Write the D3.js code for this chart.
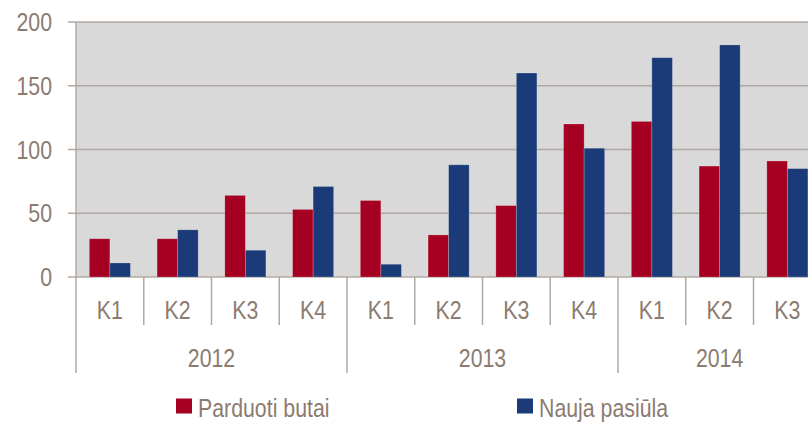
<!DOCTYPE html>
<html>
<head>
<meta charset="utf-8">
<script src="https://cdn.jsdelivr.net/npm/d3@7"></script>
<style>
  body { margin: 0; background: #fff; }
  #chart text { font-family: "Liberation Sans", Arial, sans-serif; fill: #8c7b70; font-size: 26px; }
</style>
</head>
<body>
<div id="chart"></div>
<script>
// Data
const quarters = ["K1", "K2", "K3", "K4", "K1", "K2", "K3", "K4", "K1", "K2", "K3"];
const yearOf = ["2012", "2012", "2012", "2012", "2013", "2013", "2013", "2013", "2014", "2014", "2014"];
const years = ["2012", "2013", "2014"];
const sold = [30, 30, 64, 53, 60, 33, 56, 120, 122, 87, 91];      // Parduoti butai
const offer = [11, 37, 21, 71, 10, 88, 160, 101, 172, 182, 85];   // Nauja pasiūla
const seriesNames = ["Parduoti butai", "Nauja pasiūla"];
const yTicks = [0, 50, 100, 150, 200];

const colors = ["#a50021", "#1b3b78"];
const lineColor = "#b2a8a2";
const squeeze = 0.82; // the original uses a narrow face, so squeeze the text horizontally

// Dimensions and margins (plot runs past the right edge, like the original)
const margin = { top: 22, right: 0, bottom: 145, left: 76 };
const W = 808, H = 422;
const width = 745.25;
const height = H - margin.top - margin.bottom;

const svg = d3.select("#chart")
    .append("svg")
    .attr("width", W)
    .attr("height", H)
    .append("g")
    .attr("transform", `translate(${margin.left},${margin.top})`);

// place a text at (px, py) with the narrow squeeze
function place(sel, px, py) {
    return sel.attr("transform", (d, i) => `translate(${px(d, i)},${py(d, i)}) scale(${squeeze},1)`);
}

// Scales
const idx = d3.range(quarters.length);
const x = d3.scaleBand().domain(idx).range([0, width]).padding(0);
const xSub = d3.scaleBand().domain([0, 1]).range([0, x.bandwidth()]).paddingInner(0).paddingOuter(0.65);
const y = d3.scaleLinear().domain([0, 200]).range([height, 0]);

// Plot background
svg.append("rect")
    .attr("width", width)
    .attr("height", height)
    .attr("fill", "#d9d9d9");

// Gridlines + y ticks
svg.append("g")
    .selectAll("line")
    .data(yTicks)
    .join("line")
    .attr("x1", -8)
    .attr("x2", width)
    .attr("y1", d => y(d))
    .attr("y2", d => y(d))
    .attr("stroke", lineColor)
    .attr("stroke-width", 1.5);

svg.append("g")
    .selectAll("text")
    .data(yTicks)
    .join("text")
    .attr("text-anchor", "end")
    .text(d => d)
    .call(place, () => -24, d => y(d) + 9);

// Bars
const series = [sold, offer];
series.forEach((vals, s) => {
    svg.append("g")
        .selectAll("rect")
        .data(vals)
        .join("rect")
        .attr("x", (d, i) => x(i) + xSub(s))
        .attr("y", d => y(d))
        .attr("width", xSub.bandwidth())
        .attr("height", d => y(0) - y(d))
        .attr("fill", colors[s])
        .attr("stroke", "rgba(255,255,255,0.25)")
        .attr("stroke-width", 0.8);
});

// Y axis line (continues down as the first group separator)
svg.append("line")
    .attr("x1", 0).attr("x2", 0)
    .attr("y1", 0).attr("y2", height + 96)
    .attr("stroke", lineColor)
    .attr("stroke-width", 1.5);

// Category separators
const firstOfYear = years.map(yr => yearOf.indexOf(yr));
idx.slice(1).forEach(i => {
    const isGroup = firstOfYear.includes(i);
    svg.append("line")
        .attr("x1", x(i)).attr("x2", x(i))
        .attr("y1", height)
        .attr("y2", height + (isGroup ? 96 : 48))
        .attr("stroke", lineColor)
        .attr("stroke-width", 1.5);
});

// Quarter labels
svg.append("g")
    .selectAll("text")
    .data(quarters)
    .join("text")
    .attr("text-anchor", "middle")
    .text(d => d)
    .call(place, (d, i) => x(i) + x.bandwidth() / 2, () => height + 41.5);

// Year labels
svg.append("g")
    .selectAll("text")
    .data(years)
    .join("text")
    .attr("text-anchor", "middle")
    .text(d => d)
    .call(place, yr => {
        const ids = idx.filter(i => yearOf[i] === yr);
        return (x(ids[0]) + x(ids[ids.length - 1]) + x.bandwidth()) / 2;
    }, () => height + 89.5);

// Legend
const legendX = [100, 441];
const legend = svg.append("g").attr("transform", `translate(0,${height + 113})`);
seriesNames.forEach((name, s) => {
    legend.append("rect")
        .attr("x", legendX[s])
        .attr("y", 8.5)
        .attr("width", 16)
        .attr("height", 15)
        .attr("fill", colors[s]);
    legend.append("text")
        .datum(name)
        .text(name)
        .call(place, () => legendX[s] + 22, () => 26.7);
});
</script>
</body>
</html>
